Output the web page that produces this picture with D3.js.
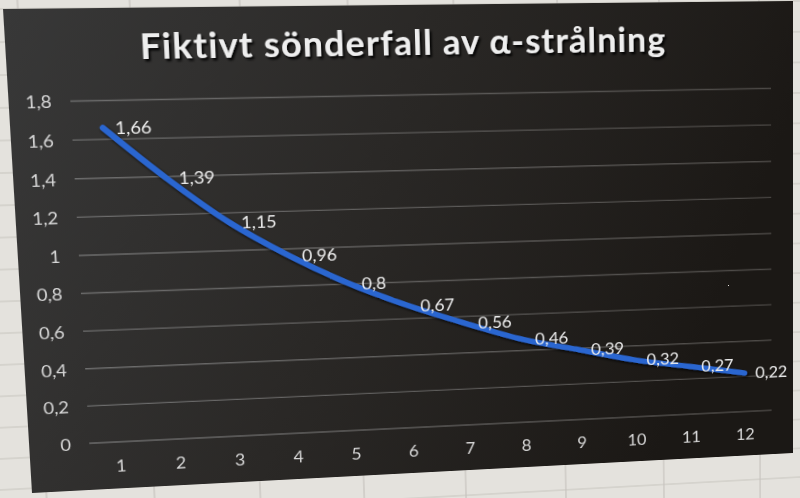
<!DOCTYPE html>
<html><head><meta charset="utf-8">
<script src="https://cdn.jsdelivr.net/npm/d3@7"></script>
<style>
html,body{margin:0;padding:0;background:#e4e2dd;overflow:hidden;width:800px;height:498px;}
#stage{position:absolute;left:0;top:0;width:800px;height:500px;transform-origin:0 0;}
#stage svg{overflow:visible;display:block;}
</style></head><body>
<div id="stage"></div>
<script>
// ---- data ----
const chartTitle = "Fiktivt sönderfall av α-strålning";
const categories = [1,2,3,4,5,6,7,8,9,10,11,12];
const values = [1.66,1.39,1.15,0.96,0.8,0.67,0.56,0.46,0.39,0.32,0.27,0.22];
const yTicks = [0,0.2,0.4,0.6,0.8,1,1.2,1.4,1.6,1.8];

// ---- layout (flat chart plane, then projected like the photo) ----
const W = 800, H = 500;
const photoQuad = [[3,9],[793,1],[793,453],[32,493]]; // TL, TR, BR, BL
const plot = {left:59, right:776, top:93.5, bottom:450};

function homography(q){
  const [x0,y0]=q[0],[x1,y1]=q[1],[x2,y2]=q[2],[x3,y3]=q[3];
  const dx1=x1-x2, dx2=x3-x2, dx3=x0-x1+x2-x3;
  const dy1=y1-y2, dy2=y3-y2, dy3=y0-y1+y2-y3;
  const den=dx1*dy2-dx2*dy1;
  const g=(dx3*dy2-dx2*dy3)/den, h=(dx1*dy3-dx3*dy1)/den;
  const a=x1-x0+g*x1, b=x3-x0+h*x3, c=x0;
  const d=y1-y0+g*y1, e=y3-y0+h*y3, f=y0;
  return [a/W,b/H,c,d/W,e/H,f,g/W,h/H];
}
const [a,b,c,d,e,f,g,h] = homography(photoQuad);
const stage = document.getElementById("stage");
stage.style.transform = `matrix3d(${a},${d},0,${g},${b},${e},0,${h},0,0,1,0,${c},${f},0,1)`;

const locale = d3.formatLocale({decimal:",", thousands:" ", grouping:[3], currency:["","kr"]});
const fmt = locale.format(".2~f");

const svg = d3.select("#stage").append("svg").attr("width",W).attr("height",H);
const defs = svg.append("defs");

const bg = defs.append("linearGradient").attr("id","bg").attr("x1",0).attr("x2",1).attr("y1",0).attr("y2",0.25);
bg.append("stop").attr("offset",0).attr("stop-color","#383838");
bg.append("stop").attr("offset",0.5).attr("stop-color","#2a2826");
bg.append("stop").attr("offset",1).attr("stop-color","#1b1815");

const gl = defs.append("linearGradient").attr("id","gl").attr("gradientUnits","userSpaceOnUse")
  .attr("x1",plot.left).attr("x2",plot.right).attr("y1",0).attr("y2",0);
gl.append("stop").attr("offset",0).attr("stop-color","#6e6e6e");
gl.append("stop").attr("offset",1).attr("stop-color","#4c4946");

const sh = defs.append("filter").attr("id","sh").attr("x","-10%").attr("y","-30%").attr("width","130%").attr("height","180%");
sh.append("feDropShadow").attr("dx",1.5).attr("dy",2).attr("stdDeviation",1.5).attr("flood-color","#000").attr("flood-opacity",0.8);
const tsh = defs.append("filter").attr("id","tsh").attr("x","-5%").attr("y","-30%").attr("width","110%").attr("height","170%");
tsh.append("feDropShadow").attr("dx",2).attr("dy",2.5).attr("stdDeviation",1.2).attr("flood-color","#000").attr("flood-opacity",0.9);

// spreadsheet behind the chart
const sheet = svg.append("g");
sheet.append("rect").attr("x",-200).attr("y",-200).attr("width",1300).attr("height",900).attr("fill","#e4e2dd");
const cellW = 107, cellH = 33;
sheet.selectAll("line.v").data(d3.range(-2,10)).join("line")
  .attr("x1",k=>14+k*cellW).attr("x2",k=>14+k*cellW).attr("y1",-200).attr("y2",700)
  .attr("stroke","#c6c3be").attr("stroke-width",1.2);
sheet.selectAll("line.h").data(d3.range(-6,22)).join("line")
  .attr("y1",k=>k*cellH).attr("y2",k=>k*cellH).attr("x1",-200).attr("x2",1100)
  .attr("stroke","#c6c3be").attr("stroke-width",1.2);

// chart panel
svg.append("rect").attr("width",W).attr("height",H).attr("fill","url(#bg)");

const x = d3.scalePoint().domain(categories).range([plot.left,plot.right]).padding(0.5);
const y = d3.scaleLinear().domain([0,1.8]).range([plot.bottom,plot.top]);

// gridlines
svg.append("g").selectAll("line").data(yTicks).join("line")
  .attr("x1",plot.left).attr("x2",plot.right)
  .attr("y1",v=>y(v)).attr("y2",v=>y(v))
  .attr("stroke","url(#gl)").attr("stroke-width",1.4);

// y axis
const yAxis = d3.axisLeft(y).tickValues(yTicks).tickFormat(fmt).tickSize(0).tickPadding(0);
const yg = svg.append("g").attr("transform",`translate(${plot.left-18},0)`).call(yAxis);
yg.select(".domain").remove();
yg.selectAll("text").attr("fill","#d8d8d8").attr("font-family","Lato, 'Open Sans', sans-serif").attr("font-size",18).attr("dy","0.35em");

// x axis
const xAxis = d3.axisBottom(x).tickSize(0).tickPadding(0);
const xg = svg.append("g").attr("transform",`translate(0,${plot.bottom+19})`).call(xAxis);
xg.select(".domain").remove();
xg.selectAll("text").attr("fill","#d8d8d8").attr("font-family","Lato, 'Open Sans', sans-serif").attr("font-size",18).attr("dy","0.71em");

// line
const line = d3.line().x((v,i)=>x(categories[i])).y(v=>y(v)).curve(d3.curveCatmullRom.alpha(0.5));
svg.append("path").datum(values).attr("d",line)
  .attr("fill","none").attr("stroke","#2c66d0").attr("stroke-width",6)
  .attr("stroke-linecap","round").attr("stroke-linejoin","round").attr("filter","url(#sh)");

// data labels
svg.append("g").selectAll("text").data(values).join("text")
  .attr("x",(v,i)=>x(categories[i])+12).attr("y",v=>y(v)).attr("dy","0.35em")
  .attr("fill","#ececec").attr("font-family","Lato, 'Open Sans', sans-serif").attr("font-size",18)
  .text(v=>fmt(v));

// title
const t = svg.append("text").attr("x",396).attr("y",52).attr("text-anchor","middle")
  .attr("fill","#eeeeee").attr("font-family","Lato, 'Open Sans', sans-serif").attr("font-weight","bold")
  .attr("font-size",33).attr("letter-spacing",1.2).attr("filter","url(#tsh)").text(chartTitle);
const len = t.node().getComputedTextLength();
t.attr("font-size", 33*Math.min(1.15, Math.max(0.85, 538/len)));
</script>
</body></html>
